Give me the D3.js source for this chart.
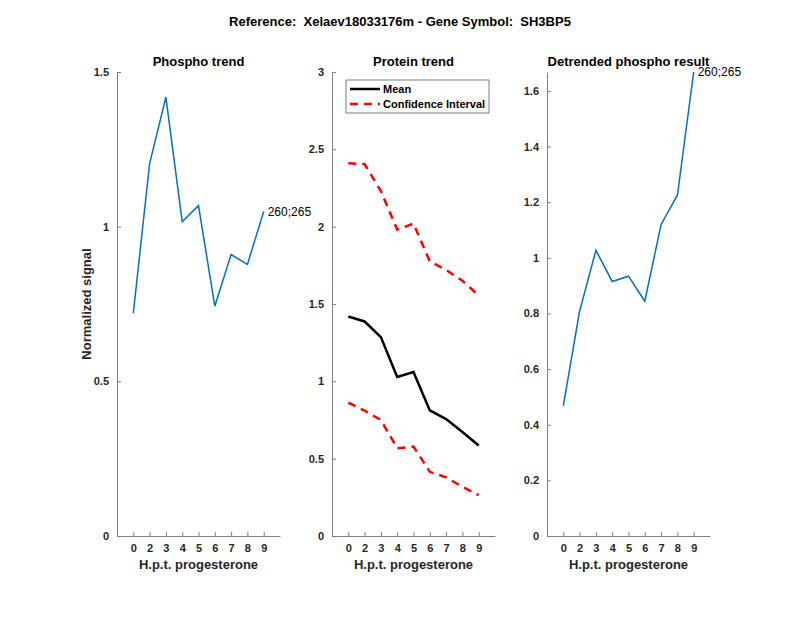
<!DOCTYPE html>
<html>
<head>
<meta charset="utf-8">
<script src="https://cdn.jsdelivr.net/npm/d3@7"></script>
<style>
  body { margin: 0; background: #fff; }
  svg { font-family: "Liberation Sans", Arial, sans-serif; }
  .tick text { font-size: 11px; font-weight: bold; fill: #262626; }
  .tick line, .domain { stroke: #808080; }
</style>
</head>
<body>
<div id="container"></div>
<script>
const width = 800, height = 618;

// data
const tickLabels = ["0", "2", "3", "4", "5", "6", "7", "8", "9"];
const phospho = [0.72, 1.204, 1.419, 1.016, 1.068, 0.743, 0.91, 0.878, 1.049];
const proteinMean = [1.419, 1.387, 1.286, 1.028, 1.06, 0.812, 0.756, 0.672, 0.585];
const ciUpper = [2.41, 2.405, 2.23, 1.98, 2.02, 1.775, 1.72, 1.65, 1.555];
const ciLower = [0.863, 0.81, 0.75, 0.567, 0.578, 0.415, 0.379, 0.318, 0.264];
const detrended = [0.468, 0.808, 1.027, 0.915, 0.934, 0.844, 1.12, 1.225, 1.668];
const siteLabel = "260;265";

const yTop = 72, yBottom = 536;
const panels = [
    {left: 117, title: "Phospho trend", ymax: 1.5, ticks: [0, 0.5, 1, 1.5]},
    {left: 332, title: "Protein trend", ymax: 3, ticks: [0, 0.5, 1, 1.5, 2, 2.5, 3]},
    {left: 547, title: "Detrended phospho result", ymax: 1.668, ticks: [0, 0.2, 0.4, 0.6, 0.8, 1, 1.2, 1.4, 1.6]}
];
const pw = 163;

var svg = d3.select("#container").append("svg")
    .attr("width", width)
    .attr("height", height);

svg.append("text")
    .attr("x", 400).attr("y", 26)
    .attr("text-anchor", "middle")
    .style("font-size", "13px").style("font-weight", "bold")
    .style("white-space", "pre")
    .attr("fill", "#000")
    .text("Reference:  Xelaev18033176m - Gene Symbol:  SH3BP5");

var scales = panels.map(function(p) {
    var x = d3.scaleLinear().domain([0, 10]).range([p.left, p.left + pw]);
    var y = d3.scaleLinear().domain([0, p.ymax]).range([yBottom, yTop]);

    svg.append("g")
        .attr("transform", `translate(0, ${yBottom})`)
        .call(d3.axisBottom(x)
            .tickValues(d3.range(1, 10))
            .tickFormat(function(d, i) { return tickLabels[i]; })
            .tickSizeInner(-4).tickSizeOuter(0).tickPadding(8));

    svg.append("g")
        .attr("transform", `translate(${p.left}, 0)`)
        .call(d3.axisLeft(y)
            .tickValues(p.ticks)
            .tickFormat(d3.format("~g"))
            .tickSizeInner(-4).tickSizeOuter(0).tickPadding(8));

    svg.append("text")
        .attr("x", p.left + pw / 2).attr("y", 569)
        .attr("text-anchor", "middle")
        .style("font-size", "13px").style("font-weight", "bold")
        .attr("fill", "#262626")
        .text("H.p.t. progesterone");

    svg.append("text")
        .attr("x", p.left + pw / 2).attr("y", 66)
        .attr("text-anchor", "middle")
        .style("font-size", "13px").style("font-weight", "bold")
        .attr("fill", "#000")
        .text(p.title);

    return {x: x, y: y};
});

svg.selectAll(".tick line").attr("stroke", "#262626");

svg.append("text")
    .attr("transform", "translate(91, 304) rotate(-90)")
    .attr("text-anchor", "middle")
    .style("font-size", "13px").style("font-weight", "bold")
    .attr("fill", "#262626")
    .text("Normalized signal");

function drawLine(s, vals, color, w, dash) {
    var line = d3.line()
        .x(function(d, i) { return s.x(i + 1); })
        .y(function(d) { return s.y(d); });
    svg.append("path")
        .datum(vals)
        .attr("d", line)
        .attr("fill", "none")
        .attr("stroke", color)
        .attr("stroke-width", w)
        .attr("stroke-dasharray", dash || null);
}

// panel 1
drawLine(scales[0], phospho, "#0072BD", 1.5);
svg.append("text")
    .attr("x", scales[0].x(9) + 4).attr("y", scales[0].y(phospho[8]) + 4)
    .style("font-size", "12px").attr("fill", "#000")
    .text(siteLabel);

// panel 2
drawLine(scales[1], ciUpper, "#FF0000", 2.5, "8,6");
drawLine(scales[1], ciLower, "#FF0000", 2.5, "8,6");
drawLine(scales[1], proteinMean, "#000", 2.5);

var lg = svg.append("g").attr("transform", "translate(346, 80)");
lg.append("rect").attr("width", 143).attr("height", 33)
    .attr("fill", "#fff").attr("stroke", "#262626").attr("stroke-width", 0.6);
lg.append("line").attr("x1", 4).attr("x2", 34).attr("y1", 9).attr("y2", 9)
    .attr("stroke", "#000").attr("stroke-width", 2.5);
lg.append("line").attr("x1", 4).attr("x2", 34).attr("y1", 24).attr("y2", 24)
    .attr("stroke", "#FF0000").attr("stroke-width", 2.5).attr("stroke-dasharray", "8,6");
lg.append("text").attr("x", 37).attr("y", 13).text("Mean")
    .style("font-size", "11px").style("font-weight", "bold").attr("fill", "#000");
lg.append("text").attr("x", 37).attr("y", 28).text("Confidence Interval")
    .style("font-size", "11px").style("font-weight", "bold").attr("fill", "#000");

// panel 3
drawLine(scales[2], detrended, "#0072BD", 1.5);
svg.append("text")
    .attr("x", scales[2].x(9) + 4).attr("y", scales[2].y(detrended[8]) + 4)
    .style("font-size", "12px").attr("fill", "#000")
    .text(siteLabel);
</script>
</body>
</html>
